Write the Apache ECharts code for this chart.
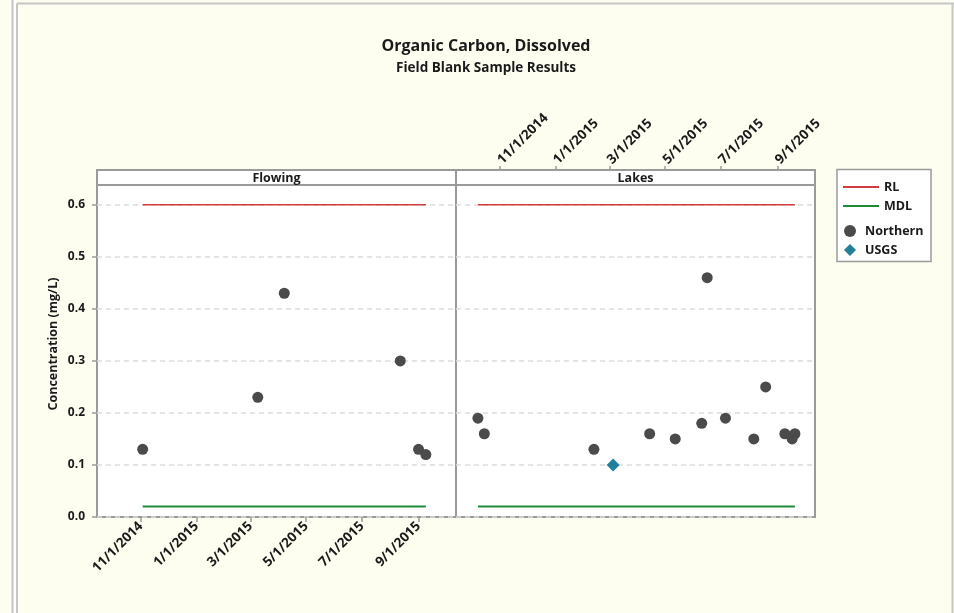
<!DOCTYPE html>
<html>
<head>
<meta charset="utf-8">
<script src="https://cdn.jsdelivr.net/npm/echarts@6/dist/echarts.min.js"></script>
<style>
  html, body { margin: 0; padding: 0; background: #fdfdf0; }
  #chart { width: 954px; height: 613px; }
</style>
</head>
<body>
<div id="chart"></div>
<script>
// Axis ticks
const tickDates = ['2014-11-01', '2015-01-01', '2015-03-01', '2015-05-01', '2015-07-01', '2015-09-01'];
const yTicks = [0, 0.1, 0.2, 0.3, 0.4, 0.5, 0.6];
const xRange = ['2014-09-14', '2015-10-12'];
const panelNames = ['Flowing', 'Lakes'];

// Reference levels (mg/L)
const rlValue = 0.6;
const mdlValue = 0.02;

// Flowing sites
const flowingNorthernDates = ['2014-11-03', '2015-03-09', '2015-04-07', '2015-08-12', '2015-09-01', '2015-09-09'];
const flowingNorthernValues = [0.13, 0.23, 0.43, 0.30, 0.13, 0.12];

// Lake sites
const lakesNorthernDates = ['2014-10-08', '2014-10-15', '2015-02-12', '2015-04-14', '2015-05-12', '2015-06-10',
  '2015-06-16', '2015-07-06', '2015-08-06', '2015-08-19', '2015-09-09', '2015-09-17', '2015-09-20'];
const lakesNorthernValues = [0.19, 0.16, 0.13, 0.16, 0.15, 0.18, 0.46, 0.19, 0.15, 0.25, 0.16, 0.15, 0.16];
const lakesUsgsDates = ['2015-03-05'];
const lakesUsgsValues = [0.10];

const FONT = 'Open Sans';
const TXT = '#1a1a1a';
const FRAME = '#9a9a9a';
const GRID_DASH = '#dcdcdc';
const RL_COLOR = '#d23c3c';
const MDL_COLOR = '#1e8b3a';
const NORTH_COLOR = '#4b4b4b';
const USGS_COLOR = '#23809a';

const DAY = 86400000;
function ts(d) {
  const p = d.split('-').map(Number);
  return Date.UTC(p[0], p[1] - 1, p[2]);
}
function fmtDate(v) {
  const d = new Date(Math.round(v / DAY) * DAY);
  return (d.getUTCMonth() + 1) + '/' + d.getUTCDate() + '/' + d.getUTCFullYear();
}
function points(dates, values) {
  return dates.map((d, i) => [ts(d), values[i]]);
}
// Limit lines run across every sampled date in a panel
function levelLine(dateLists, level) {
  const all = [].concat(...dateLists).map(ts).sort((a, b) => a - b);
  return all.map(t => [t, level]);
}

const tickTs = tickDates.map(ts);

function dateAxis(gridIndex, position, withLabels, margin) {
  return {
    type: 'value',
    gridIndex: gridIndex,
    position: position,
    min: ts(xRange[0]),
    max: ts(xRange[1]),
    axisLine: { show: false },
    axisTick: {
      show: withLabels,
      customValues: tickTs,
      length: position === 'top' ? 4 : 5,
      lineStyle: { color: FRAME, width: 1.5 }
    },
    axisLabel: {
      show: withLabels,
      customValues: tickTs,
      rotate: 45,
      margin: margin,
      formatter: fmtDate,
      color: TXT,
      fontFamily: FONT,
      fontSize: 13.5,
      fontWeight: 'bold'
    },
    splitLine: { show: false }
  };
}

function concAxis(gridIndex, withLabels) {
  return {
    type: 'value',
    gridIndex: gridIndex,
    min: 0,
    max: 0.638,
    interval: 0.05,
    name: withLabels ? 'Concentration (mg/L)' : '',
    nameLocation: 'middle',
    nameGap: 37,
    nameTextStyle: { color: TXT, fontFamily: FONT, fontSize: 12.5, fontWeight: 'bold', padding: [0, 0, 0, 14] },
    axisLine: { show: false },
    axisTick: {
      show: withLabels,
      customValues: yTicks,
      length: 5,
      lineStyle: { color: FRAME, width: 1.5 }
    },
    axisLabel: {
      show: withLabels,
      customValues: yTicks,
      margin: 12,
      formatter: v => v.toFixed(1),
      color: TXT,
      fontFamily: FONT,
      fontSize: 12,
      fontWeight: 'bold'
    },
    splitLine: { show: true, lineStyle: { color: GRID_DASH, width: 1.5, type: [5, 4] } }
  };
}

// Hidden value axis for the header strip and the date-label band
function hiddenYAxis(gridIndex) {
  return { type: 'value', gridIndex: gridIndex, min: 0, max: 1, show: false };
}

function lineSeries(name, color, width, xi, data) {
  return {
    name: name, type: 'line', xAxisIndex: xi, yAxisIndex: xi,
    data: data, symbol: 'none', silent: true, color: color,
    lineStyle: { color: color, width: width }, z: 3
  };
}

function scatterSeries(name, symbol, size, color, xi, data) {
  return {
    name: name, type: 'scatter', xAxisIndex: xi, yAxisIndex: xi,
    symbol: symbol, symbolSize: size, color: color,
    itemStyle: { color: color, opacity: 1 },
    data: data, z: 5
  };
}

const panelBox = { show: true, backgroundColor: '#ffffff', borderColor: FRAME, borderWidth: 2, containLabel: false };

const chart = echarts.init(document.getElementById('chart'), null, { renderer: 'canvas' });

chart.setOption({
  backgroundColor: '#fdfdf0',
  animation: false,
  textStyle: { fontFamily: FONT },
  title: {
    text: 'Organic Carbon, Dissolved',
    subtext: 'Field Blank Sample Results',
    left: 486,
    textAlign: 'center',
    top: 36,
    itemGap: 4,
    padding: 0,
    textStyle: { color: TXT, fontFamily: FONT, fontSize: 16, fontWeight: 'bold', lineHeight: 20 },
    subtextStyle: { color: TXT, fontFamily: FONT, fontSize: 13.5, fontWeight: 'bold', lineHeight: 16 }
  },
  legend: [
    {
      data: [{ name: 'RL', icon: 'rect' }, { name: 'MDL', icon: 'rect' }],
      orient: 'vertical',
      left: 838, top: 175,
      itemWidth: 36, itemHeight: 2, itemGap: 5,
      selectedMode: false,
      textStyle: { color: TXT, fontFamily: FONT, fontSize: 12.5, fontWeight: 'bold', lineHeight: 14 }
    },
    {
      data: [{ name: 'Northern', icon: 'circle' }, { name: 'USGS', icon: 'diamond' }],
      orient: 'vertical',
      left: 839, top: 219,
      itemWidth: 12, itemHeight: 12, itemGap: 5,
      selectedMode: false,
      textStyle: { color: TXT, fontFamily: FONT, fontSize: 12.5, fontWeight: 'bold', lineHeight: 14, padding: [0, 0, 0, 4] }
    }
  ],
  grid: [
    Object.assign({ left: 97, top: 185, width: 359, height: 332 }, panelBox),
    Object.assign({ left: 456, top: 185, width: 359, height: 332 }, panelBox),
    // header strips
    Object.assign({ left: 97, top: 170, width: 359, height: 15 }, panelBox),
    Object.assign({ left: 456, top: 170, width: 359, height: 15 }, panelBox),
    // band carrying the Lakes date labels
    { left: 456, top: 164, width: 359, height: 6, show: false, containLabel: false }
  ],
  xAxis: [
    dateAxis(0, 'bottom', true, 7),
    dateAxis(1, 'bottom', false, 7),
    dateAxis(2, 'top', false, 2),
    dateAxis(3, 'top', false, 2),
    dateAxis(4, 'top', true, 2)
  ],
  yAxis: [
    concAxis(0, true),
    concAxis(1, false),
    hiddenYAxis(2),
    hiddenYAxis(3),
    hiddenYAxis(4)
  ],
  graphic: [
    // outer frame
    { type: 'line', shape: { x1: 12.5, y1: 0, x2: 12.5, y2: 613 }, style: { stroke: '#c6c6c6', lineWidth: 2 }, silent: true },
    { type: 'rect', shape: { x: 14, y: 0, width: 2, height: 613 }, style: { fill: '#ffffff' }, silent: true },
    { type: 'line', shape: { x1: 17, y1: 3.5, x2: 17, y2: 613 }, style: { stroke: '#c6c6c6', lineWidth: 2 }, silent: true },
    { type: 'line', shape: { x1: 17, y1: 3.5, x2: 954, y2: 3.5 }, style: { stroke: '#c6c6c6', lineWidth: 2 }, silent: true },
    { type: 'line', shape: { x1: 952.5, y1: 3.5, x2: 952.5, y2: 613 }, style: { stroke: '#c6c6c6', lineWidth: 2 }, silent: true },
    // panel headers
    { type: 'text', x: 276.5, y: 178, style: { text: panelNames[0], fill: TXT, font: 'bold 12.5px "Open Sans"', textAlign: 'center', textVerticalAlign: 'middle' }, silent: true, z: 11 },
    { type: 'text', x: 635.5, y: 178, style: { text: panelNames[1], fill: TXT, font: 'bold 12.5px "Open Sans"', textAlign: 'center', textVerticalAlign: 'middle' }, silent: true, z: 11 },
    // legend box
    { type: 'rect', shape: { x: 837, y: 169.5, width: 94, height: 92 }, style: { fill: '#ffffff', stroke: FRAME, lineWidth: 1.5 }, silent: true, z: -1 }
  ],
  series: [
    lineSeries('RL', RL_COLOR, 1.5, 0, levelLine([flowingNorthernDates], rlValue)),
    lineSeries('MDL', MDL_COLOR, 2, 0, levelLine([flowingNorthernDates], mdlValue)),
    lineSeries('RL', RL_COLOR, 1.5, 1, levelLine([lakesNorthernDates, lakesUsgsDates], rlValue)),
    lineSeries('MDL', MDL_COLOR, 2, 1, levelLine([lakesNorthernDates, lakesUsgsDates], mdlValue)),
    scatterSeries('Northern', 'circle', 11, NORTH_COLOR, 0, points(flowingNorthernDates, flowingNorthernValues)),
    scatterSeries('Northern', 'circle', 11, NORTH_COLOR, 1, points(lakesNorthernDates, lakesNorthernValues)),
    scatterSeries('USGS', 'diamond', 13, USGS_COLOR, 1, points(lakesUsgsDates, lakesUsgsValues))
  ]
});
</script>
</body>
</html>
